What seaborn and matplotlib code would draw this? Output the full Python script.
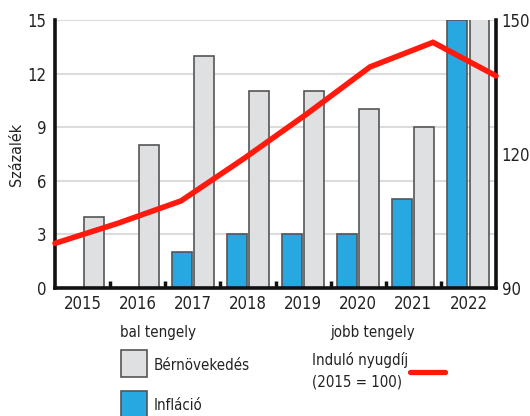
import seaborn as sns
import pandas as pd
import matplotlib.pyplot as plt
import matplotlib.patches as mpatches
from matplotlib.lines import Line2D

# data
years = ['2015', '2016', '2017', '2018', '2019', '2020', '2021', '2022']
berno = [4, 8, 13, 11, 11, 10, 9, 17.5]   # Bérnövekedés, %
inflacio = [0, 0, 2, 3, 3, 3, 5, 15]     # Infláció, %
nyugdij = [100, 104.5, 109.5, 119, 129, 139.5, 145, 137.5]  # Induló nyugdíj (2015 = 100)

left_ticks = [0, 3, 6, 9, 12, 15]
right_ticks = [90, 120, 150]

gray = '#dfe0e2'
blue = '#27a8e0'
red = '#ff1a0d'
edge = '#555555'
txt = '#222222'

sns.set_style('white')
plt.rcParams['font.family'] = ['DejaVu Sans']
plt.rcParams['font.stretch'] = 'condensed'
plt.rcParams['font.size'] = 12
plt.rcParams['text.color'] = txt

df = pd.DataFrame({
    'ev': years * 2,
    'ertek': inflacio + berno,
    'sor': ['Infláció'] * len(years) + ['Bérnövekedés'] * len(years),
})

fig = plt.figure(figsize=(5.3, 4.16), dpi=100)
pos = [55 / 530, 1 - 288 / 416, 441 / 530, 268 / 416]
ax = fig.add_axes(pos)

sns.barplot(data=df, x='ev', y='ertek', hue='sor', hue_order=['Infláció', 'Bérnövekedés'],
            palette=[blue, gray], gap=0.1, edgecolor=edge, linewidth=1.2,
            saturation=1, legend=False, ax=ax, zorder=2)

ax.set_xlim(-0.5, 7.5)
ax.set_ylim(0, 15)
ax.set_yticks(left_ticks)
ax.yaxis.grid(True, color='#dcdcdc', linewidth=1.5, zorder=0)
ax.set_axisbelow(True)
ax.set_xlabel('')
ax.set_ylabel('Százalék', color=txt, labelpad=3, fontsize=11.5)
ax.tick_params(axis='y', length=0, pad=6, colors=txt)
ax.tick_params(axis='x', which='major', length=0, pad=5, colors=txt)
ax.set_xticks([b + 0.5 for b in range(len(years) - 1)], minor=True)
ax.tick_params(axis='x', which='minor', bottom=True, direction='in', length=5, width=2.5,
               color='#111111')
for s in ['left', 'bottom']:
    ax.spines[s].set_linewidth(2.6)
    ax.spines[s].set_color('#111111')
ax.spines['top'].set_visible(False)
ax.spines['right'].set_visible(False)

# right axis, line spans the full width
ax2 = fig.add_axes(pos)
ax2.patch.set_visible(False)
sns.lineplot(x=range(len(years)), y=nyugdij, color=red, linewidth=4, ax=ax2,
             solid_joinstyle='miter', clip_on=False, zorder=5)
ax2.set_xlim(0, len(years) - 1)
ax2.set_ylim(90, 150)
ax2.set_xticks([])
ax2.yaxis.tick_right()
ax2.set_yticks(right_ticks)
ax2.tick_params(axis='y', length=0, pad=4, colors=txt)
for s in ['left', 'top', 'bottom']:
    ax2.spines[s].set_visible(False)
ax2.spines['right'].set_linewidth(2.6)
ax2.spines['right'].set_color('#111111')

# legend below the chart
W, H = 530, 416
lfs = 10.8
fig.text(120 / W, 1 - 333 / H, 'bal tengely', va='center', ha='left', fontsize=lfs)
fig.patches.append(mpatches.Rectangle((121 / W, 1 - 377 / H), 26 / W, 27 / H,
                                      transform=fig.transFigure, facecolor=gray,
                                      edgecolor=edge, linewidth=1.2))
fig.text(154 / W, 1 - 366 / H, 'Bérnövekedés', va='center', ha='left', fontsize=lfs)
fig.patches.append(mpatches.Rectangle((121 / W, 1 - 418 / H), 26 / W, 27 / H,
                                      transform=fig.transFigure, facecolor=blue,
                                      edgecolor=edge, linewidth=1.2))
fig.text(154 / W, 1 - 405 / H, 'Infláció', va='center', ha='left', fontsize=lfs)
fig.text(330 / W, 1 - 333 / H, 'jobb tengely', va='center', ha='left', fontsize=lfs)
fig.text(312 / W, 1 - 360 / H, 'Induló nyugdíj', va='center', ha='left', fontsize=lfs)
fig.text(312 / W, 1 - 382 / H, '(2015 = 100)', va='center', ha='left', fontsize=lfs)
fig.lines.append(Line2D([410 / W, 445 / W], [1 - 372 / H, 1 - 372 / H],
                        transform=fig.transFigure, color=red, linewidth=3.8))

fig.savefig('out.png', dpi=100)
